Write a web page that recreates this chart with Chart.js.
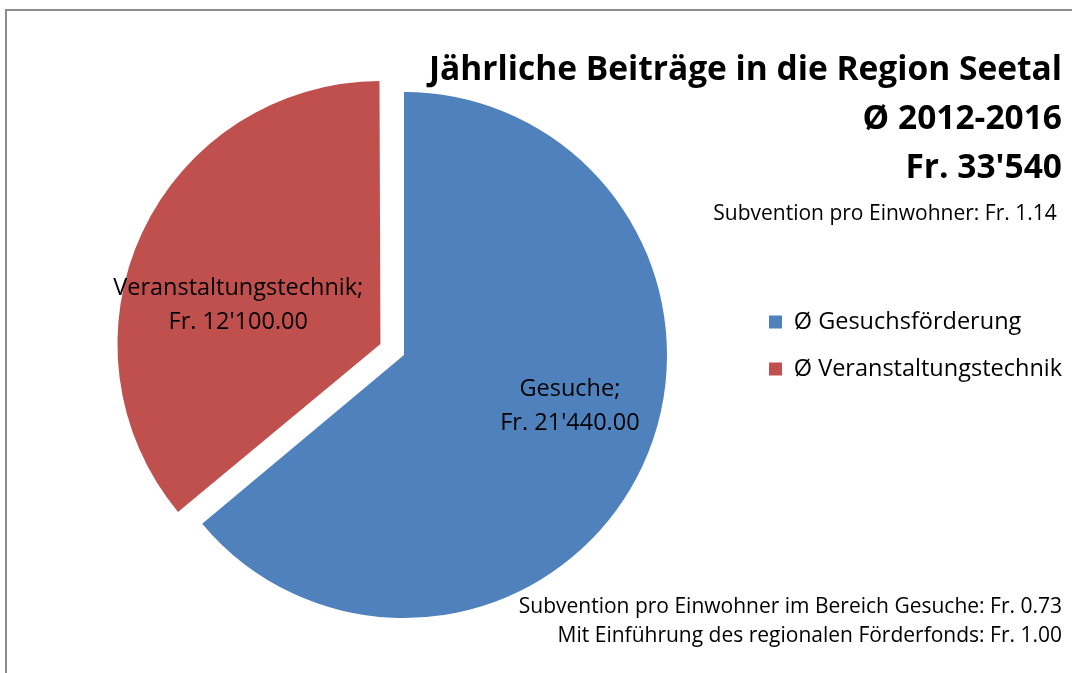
<!DOCTYPE html>
<html lang="de">
<head>
    <meta charset="UTF-8">
    <script src="https://cdn.jsdelivr.net/npm/chart.js@4.4.1/dist/chart.umd.min.js"></script>
    <title>Region Seetal</title>
    <style>
        body { margin: 0; background: #fff; }
        .frame { position: absolute; left: 5px; top: 9px; width: 1200px; height: 800px;
                 border-left: 2px solid #8c8c8c; border-top: 2px solid #8c8c8c; }
        #chart { position: absolute; left: 0; top: 0; }
    </style>
</head>
<body>
    <div class="frame"></div>
    <canvas id="chart" width="1072" height="673"></canvas>

    <script>
        // data
        const categories = ["Ø Gesuchsförderung", "Ø Veranstaltungstechnik"];
        const sliceNames = ["Gesuche", "Veranstaltungstechnik"];
        const values = [21440, 12100];
        const colors = ["#4f81bd", "#c0504d"];
        const explode = [0, 104];
        const period = "Ø 2012-2016";
        const perResident = "Subvention pro Einwohner: Fr. 1.14";
        const notes = [
            "Subvention pro Einwohner im Bereich Gesuche: Fr. 0.73",
            "Mit Einführung des regionalen Förderfonds: Fr. 1.00"
        ];

        // label placement (fraction of radius, turn in degrees)
        const labelDist = [0.66, 0.56];
        const labelTurn = [-8, -10];

        const FONT = "'Open Sans'";

        function swiss(v, digits) {
            const parts = v.toFixed(digits).split(".");
            parts[0] = parts[0].replace(/\B(?=(\d{3})+(?!\d))/g, "'");
            return parts.join(".");
        }

        const total = values.reduce((a, b) => a + b, 0);

        // chart.js grows an offset slice's radius; keep it the same size as the others
        const explodeFix = {
            id: "explodeFix",
            afterDatasetUpdate(chart, args) {
                args.meta.data.forEach(arc => {
                    const o = (arc.options.offset || 0) / 4;
                    const fix = 1 - Math.sin(Math.min(Math.PI, arc.circumference));
                    arc.outerRadius -= o * fix;
                });
            }
        };

        const sliceLabels = {
            id: "sliceLabels",
            afterDatasetsDraw(chart) {
                const ctx = chart.ctx;
                const meta = chart.getDatasetMeta(0);
                ctx.save();
                ctx.font = "23.5px " + FONT;
                ctx.fillStyle = "#000";
                ctx.textAlign = "center";
                ctx.textBaseline = "middle";
                meta.data.forEach((arc, i) => {
                    const o = (arc.options.offset || 0) / 4;
                    const fix = 1 - Math.sin(Math.min(Math.PI, arc.circumference));
                    const r = arc.outerRadius + o * fix;
                    const mid = (arc.startAngle + arc.endAngle) / 2;
                    const cx = arc.x + Math.cos(mid) * o;
                    const cy = arc.y + Math.sin(mid) * o;
                    const a = mid + labelTurn[i] * Math.PI / 180;
                    const x = cx + Math.cos(a) * r * labelDist[i];
                    const y = cy + Math.sin(a) * r * labelDist[i];
                    ctx.fillText(sliceNames[i] + ";", x, y - 17);
                    ctx.fillText("Fr. " + swiss(values[i], 2), x, y + 17);
                });
                ctx.restore();
            }
        };

        const footNotes = {
            id: "footNotes",
            afterDraw(chart) {
                const ctx = chart.ctx;
                ctx.save();
                ctx.font = "21px " + FONT;
                ctx.fillStyle = "#000";
                ctx.textAlign = "right";
                ctx.textBaseline = "middle";
                ctx.fillText(notes[0], 1062, 607);
                ctx.fillText(notes[1], 1062, 636);
                ctx.restore();
            }
        };

        new Chart("chart", {
            type: "pie",
            data: {
                labels: categories,
                datasets: [{
                    data: values,
                    backgroundColor: colors,
                    borderWidth: 0,
                    offset: explode,
                    clip: false
                }]
            },
            options: {
                responsive: false,
                animation: false,
                events: [],
                radius: 263,
                layout: {
                    padding: { left: 62.5, right: 10, top: 10, bottom: 249.75 }
                },
                plugins: {
                    tooltip: { enabled: false },
                    title: {
                        display: true,
                        align: "end",
                        text: ["Jährliche Beiträge in die Region Seetal", period, "Fr. " + swiss(total, 0)],
                        color: "#000",
                        font: { family: FONT, size: 33.5, weight: "bold", lineHeight: 1.463 },
                        padding: { top: 36, bottom: 0 }
                    },
                    subtitle: {
                        display: true,
                        align: "end",
                        text: perResident + "\u2005",
                        color: "#000",
                        font: { family: FONT, size: 21, lineHeight: 1.143 },
                        padding: { top: 9, bottom: 60.75 }
                    },
                    legend: {
                        position: "right",
                        align: "start",
                        fullSize: false,
                        maxWidth: 316.5,
                        labels: {
                            boxWidth: 13,
                            boxHeight: 13,
                            padding: 23.5,
                            color: "#000",
                            font: { family: FONT, size: 23.5 }
                        }
                    }
                }
            },
            plugins: [explodeFix, sliceLabels, footNotes]
        });
    </script>
</body>
</html>
